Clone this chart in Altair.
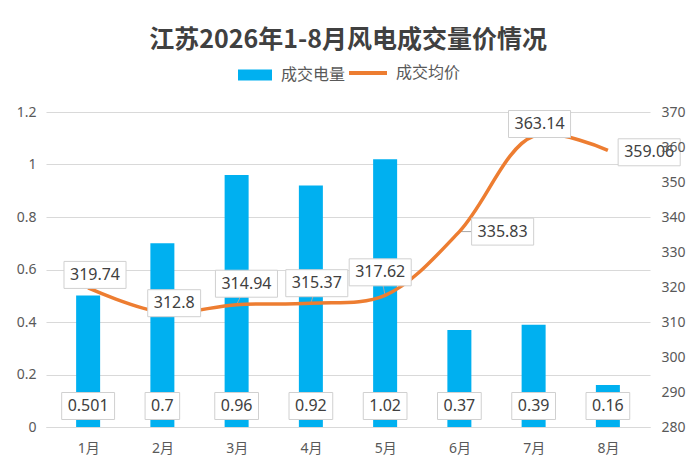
import altair as alt
import pandas as pd

months = [1, 2, 3, 4, 5, 6, 7, 8]
volume = [0.501, 0.7, 0.96, 0.92, 1.02, 0.37, 0.39, 0.16]
volume_labels = ["0.501", "0.7", "0.96", "0.92", "1.02", "0.37", "0.39", "0.16"]
price = [319.74, 312.8, 314.94, 315.37, 317.62, 335.83, 363.14, 359.06]
price_labels = ["319.74", "312.8", "314.94", "315.37", "317.62", "335.83", "363.14", "359.06"]

# where each price label sits, in pixels from its point, and whether a leader line shows
label_offsets = [(7, -13), (12, -9), (10, -21), (6, -20), (-5, -23), (44, 0), (6, -12), (42, 2)]
has_leader = [False, False, True, True, True, True, False, False]

W, H = 604, 315
X_DOMAIN = [0.5, 8.5]
Y_LEFT = [0, 1.2]
Y_RIGHT = [280, 370]
FONT = "Noto Sans, Noto Sans CJK SC"
LABEL_SIZE = 16
BOX_H = 27

px_x = (X_DOMAIN[1] - X_DOMAIN[0]) / W
px_left = (Y_LEFT[1] - Y_LEFT[0]) / H
px_right = (Y_RIGHT[1] - Y_RIGHT[0]) / H


def text_width(s):
    return sum(0.268 if c == "." else 0.572 for c in s) * LABEL_SIZE


def box_shape(s):
    # custom symbol path: unit width, scaled by sqrt(size)
    w = text_width(s) + 12
    r = BOX_H / w
    return f"M-1,{-r:.4f}L1,{-r:.4f}L1,{r:.4f}L-1,{r:.4f}Z", w * w


bar_df = pd.DataFrame({"month": months, "volume": volume, "label": volume_labels})
bar_df["label_y"] = 21 * px_left
bar_df["path"] = [box_shape(s)[0] for s in volume_labels]
bar_df["box_size"] = [box_shape(s)[1] for s in volume_labels]
bar_df["series"] = "成交电量"

line_df = pd.DataFrame({"month": months, "price": price, "label": price_labels})
line_df["lx"] = [m + dx * px_x for m, (dx, dy) in zip(months, label_offsets)]
line_df["ly"] = [p - dy * px_right for p, (dx, dy) in zip(price, label_offsets)]
line_df["path"] = [box_shape(s)[0] for s in price_labels]
line_df["box_size"] = [box_shape(s)[1] for s in price_labels]
line_df["series"] = "成交均价"
leader_df = line_df[has_leader]

x_scale = alt.Scale(domain=X_DOMAIN, nice=False, zero=False)
x_axis = alt.Axis(
    values=months, labelExpr="datum.value + '月'", title=None, ticks=False, grid=False,
    domainColor="#D9D9D9", labelColor="#595959", labelFontSize=14, labelFont=FONT,
    labelPadding=14,
)
left_axis = alt.Axis(
    values=[0, 0.2, 0.4, 0.6, 0.8, 1.0, 1.2], format="~g", title=None, ticks=False,
    domain=False, gridColor="#D9D9D9", labelColor="#595959", labelFontSize=14,
    labelFont=FONT, labelPadding=10,
)
right_axis = alt.Axis(
    orient="right", values=list(range(280, 371, 10)), title=None, ticks=False,
    domain=False, grid=False, labelColor="#595959", labelFontSize=14, labelFont=FONT,
    labelPadding=11, zindex=1,
)
x_enc = alt.X("month:Q", scale=x_scale, axis=x_axis)
yl_scale = alt.Scale(domain=Y_LEFT, nice=False)
yr_scale = alt.Scale(domain=Y_RIGHT, nice=False, zero=False)

bars = alt.Chart(bar_df).mark_bar(size=24).encode(
    x=x_enc,
    y=alt.Y("volume:Q", scale=yl_scale, axis=left_axis),
    fill=alt.Fill(
        "series:N",
        scale=alt.Scale(domain=["成交电量"], range=["#00B0F0"]),
        legend=alt.Legend(
            title=None, orient="none", legendX=192, legendY=-54,
            symbolType="M-1,-0.32L1,-0.32L1,0.32L-1,0.32Z", symbolSize=1156,
            symbolStrokeWidth=0, labelFontSize=16, labelFont=FONT, labelColor="#595959",
            labelOffset=9,
        ),
    ),
)
bar_boxes = alt.Chart(bar_df).mark_point(
    filled=True, fill="white", stroke="#D0D0D0", strokeWidth=1, opacity=1
).encode(
    x=x_enc,
    y=alt.Y("label_y:Q", scale=yl_scale, axis=left_axis),
    shape=alt.Shape("path:N", scale=None),
    size=alt.Size("box_size:Q", scale=None),
)
bar_text = alt.Chart(bar_df).mark_text(
    font=FONT, fontSize=LABEL_SIZE, color="#404040", baseline="middle"
).encode(
    x=x_enc,
    y=alt.Y("label_y:Q", scale=yl_scale, axis=left_axis),
    text="label:N",
)

leaders = alt.Chart(leader_df).mark_rule(color="#A6A6A6", strokeWidth=1).encode(
    x=x_enc,
    y=alt.Y("price:Q", scale=yr_scale, axis=right_axis),
    x2="lx:Q",
    y2="ly:Q",
)
line = alt.Chart(line_df).mark_line(strokeWidth=3.5, interpolate="catmull-rom").encode(
    x=x_enc,
    y=alt.Y("price:Q", scale=yr_scale, axis=right_axis),
    stroke=alt.Stroke(
        "series:N",
        scale=alt.Scale(domain=["成交均价"], range=["#ED7D31"]),
        legend=alt.Legend(
            title=None, orient="none", legendX=301, legendY=-60, symbolType="stroke",
            symbolSize=1444, symbolStrokeWidth=4, labelFontSize=16, labelFont=FONT,
            labelColor="#595959", labelOffset=7,
        ),
    ),
)
line_boxes = alt.Chart(line_df).mark_point(
    filled=True, fill="white", stroke="#D0D0D0", strokeWidth=1, opacity=1
).encode(
    x=alt.X("lx:Q", scale=x_scale, axis=x_axis),
    y=alt.Y("ly:Q", scale=yr_scale, axis=right_axis),
    shape=alt.Shape("path:N", scale=None),
    size=alt.Size("box_size:Q", scale=None),
)
line_text = alt.Chart(line_df).mark_text(
    font=FONT, fontSize=LABEL_SIZE, color="#404040", baseline="middle"
).encode(
    x=alt.X("lx:Q", scale=x_scale, axis=x_axis),
    y=alt.Y("ly:Q", scale=yr_scale, axis=right_axis),
    text="label:N",
)

left = alt.layer(bars, bar_boxes, bar_text)
right = alt.layer(leaders, line, line_boxes, line_text)

chart = (
    alt.layer(left, right)
    .resolve_scale(y="independent", fill="independent", stroke="independent")
    .properties(
        width=W,
        height=H,
        autosize=alt.AutoSizeParams(type="none"),
        padding={"left": 38, "top": 104, "right": 42, "bottom": 38},
        background="white",
        title=alt.TitleParams(
            "江苏2026年1-8月风电成交量价情况", fontSize=25, fontWeight="bold",
            color="#404040", font="Noto Sans CJK SC", anchor="middle", offset=10, dy=11,
        ),
    )
    .configure_view(stroke=None)
)

chart.save("out.html", embed_options={"renderer": "svg", "actions": False})
